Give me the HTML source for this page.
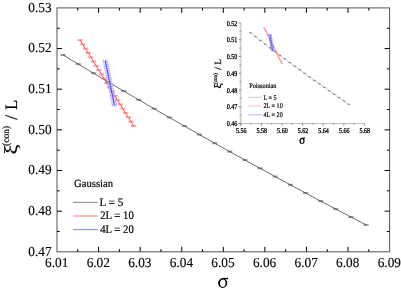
<!DOCTYPE html>
<html><head><meta charset="utf-8"><style>
html,body{margin:0;padding:0;background:#fff;width:401px;height:292px;overflow:hidden}
svg{display:block;will-change:transform}
text{font-family:"Liberation Serif", serif;fill:#000;text-rendering:geometricPrecision}
.b text,text.b{stroke:#000;stroke-width:0.3px}
text.m{stroke:#000;stroke-width:0.12px}
text.g{stroke:#000;stroke-width:0.2px}
</style></head><body>
<svg width="401" height="292" viewBox="0 0 401 292">
<rect x="57.0" y="7.9" width="332.60" height="243.90" fill="none" stroke="#555" stroke-width="1"/>
<line x1="77.79" y1="251.8" x2="77.79" y2="249.10000000000002" stroke="#000"/>
<line x1="77.79" y1="7.9" x2="77.79" y2="10.600000000000001" stroke="#000"/>
<line x1="98.57" y1="251.8" x2="98.57" y2="246.8" stroke="#000"/>
<line x1="98.57" y1="7.9" x2="98.57" y2="12.9" stroke="#000"/>
<line x1="119.36" y1="251.8" x2="119.36" y2="249.10000000000002" stroke="#000"/>
<line x1="119.36" y1="7.9" x2="119.36" y2="10.600000000000001" stroke="#000"/>
<line x1="140.15" y1="251.8" x2="140.15" y2="246.8" stroke="#000"/>
<line x1="140.15" y1="7.9" x2="140.15" y2="12.9" stroke="#000"/>
<line x1="160.94" y1="251.8" x2="160.94" y2="249.10000000000002" stroke="#000"/>
<line x1="160.94" y1="7.9" x2="160.94" y2="10.600000000000001" stroke="#000"/>
<line x1="181.73" y1="251.8" x2="181.73" y2="246.8" stroke="#000"/>
<line x1="181.73" y1="7.9" x2="181.73" y2="12.9" stroke="#000"/>
<line x1="202.51" y1="251.8" x2="202.51" y2="249.10000000000002" stroke="#000"/>
<line x1="202.51" y1="7.9" x2="202.51" y2="10.600000000000001" stroke="#000"/>
<line x1="223.30" y1="251.8" x2="223.30" y2="246.8" stroke="#000"/>
<line x1="223.30" y1="7.9" x2="223.30" y2="12.9" stroke="#000"/>
<line x1="244.09" y1="251.8" x2="244.09" y2="249.10000000000002" stroke="#000"/>
<line x1="244.09" y1="7.9" x2="244.09" y2="10.600000000000001" stroke="#000"/>
<line x1="264.87" y1="251.8" x2="264.87" y2="246.8" stroke="#000"/>
<line x1="264.87" y1="7.9" x2="264.87" y2="12.9" stroke="#000"/>
<line x1="285.66" y1="251.8" x2="285.66" y2="249.10000000000002" stroke="#000"/>
<line x1="285.66" y1="7.9" x2="285.66" y2="10.600000000000001" stroke="#000"/>
<line x1="306.45" y1="251.8" x2="306.45" y2="246.8" stroke="#000"/>
<line x1="306.45" y1="7.9" x2="306.45" y2="12.9" stroke="#000"/>
<line x1="327.24" y1="251.8" x2="327.24" y2="249.10000000000002" stroke="#000"/>
<line x1="327.24" y1="7.9" x2="327.24" y2="10.600000000000001" stroke="#000"/>
<line x1="348.03" y1="251.8" x2="348.03" y2="246.8" stroke="#000"/>
<line x1="348.03" y1="7.9" x2="348.03" y2="12.9" stroke="#000"/>
<line x1="368.81" y1="251.8" x2="368.81" y2="249.10000000000002" stroke="#000"/>
<line x1="368.81" y1="7.9" x2="368.81" y2="10.600000000000001" stroke="#000"/>
<line x1="57.0" y1="231.48" x2="59.7" y2="231.48" stroke="#000"/>
<line x1="389.6" y1="231.48" x2="386.90000000000003" y2="231.48" stroke="#000"/>
<line x1="57.0" y1="211.15" x2="62.0" y2="211.15" stroke="#000"/>
<line x1="389.6" y1="211.15" x2="384.6" y2="211.15" stroke="#000"/>
<line x1="57.0" y1="190.83" x2="59.7" y2="190.83" stroke="#000"/>
<line x1="389.6" y1="190.83" x2="386.90000000000003" y2="190.83" stroke="#000"/>
<line x1="57.0" y1="170.50" x2="62.0" y2="170.50" stroke="#000"/>
<line x1="389.6" y1="170.50" x2="384.6" y2="170.50" stroke="#000"/>
<line x1="57.0" y1="150.18" x2="59.7" y2="150.18" stroke="#000"/>
<line x1="389.6" y1="150.18" x2="386.90000000000003" y2="150.18" stroke="#000"/>
<line x1="57.0" y1="129.85" x2="62.0" y2="129.85" stroke="#000"/>
<line x1="389.6" y1="129.85" x2="384.6" y2="129.85" stroke="#000"/>
<line x1="57.0" y1="109.53" x2="59.7" y2="109.53" stroke="#000"/>
<line x1="389.6" y1="109.53" x2="386.90000000000003" y2="109.53" stroke="#000"/>
<line x1="57.0" y1="89.20" x2="62.0" y2="89.20" stroke="#000"/>
<line x1="389.6" y1="89.20" x2="384.6" y2="89.20" stroke="#000"/>
<line x1="57.0" y1="68.88" x2="59.7" y2="68.88" stroke="#000"/>
<line x1="389.6" y1="68.88" x2="386.90000000000003" y2="68.88" stroke="#000"/>
<line x1="57.0" y1="48.55" x2="62.0" y2="48.55" stroke="#000"/>
<line x1="389.6" y1="48.55" x2="384.6" y2="48.55" stroke="#000"/>
<line x1="57.0" y1="28.23" x2="59.7" y2="28.23" stroke="#000"/>
<line x1="389.6" y1="28.23" x2="386.90000000000003" y2="28.23" stroke="#000"/>
<text transform="translate(56.70,267.00) scale(1,1.03)" font-size="13.3" text-anchor="middle" class="m">6.01</text>
<text transform="translate(98.27,267.00) scale(1,1.03)" font-size="13.3" text-anchor="middle" class="m">6.02</text>
<text transform="translate(139.85,267.00) scale(1,1.03)" font-size="13.3" text-anchor="middle" class="m">6.03</text>
<text transform="translate(181.43,267.00) scale(1,1.03)" font-size="13.3" text-anchor="middle" class="m">6.04</text>
<text transform="translate(223.00,267.00) scale(1,1.03)" font-size="13.3" text-anchor="middle" class="m">6.05</text>
<text transform="translate(264.57,267.00) scale(1,1.03)" font-size="13.3" text-anchor="middle" class="m">6.06</text>
<text transform="translate(306.15,267.00) scale(1,1.03)" font-size="13.3" text-anchor="middle" class="m">6.07</text>
<text transform="translate(347.73,267.00) scale(1,1.03)" font-size="13.3" text-anchor="middle" class="m">6.08</text>
<text transform="translate(389.30,267.00) scale(1,1.03)" font-size="13.3" text-anchor="middle" class="m">6.09</text>
<text transform="translate(51.60,12.00) scale(1,1.03)" font-size="13.3" text-anchor="end" class="m">0.53</text>
<text transform="translate(51.60,52.00) scale(1,1.03)" font-size="13.3" text-anchor="end" class="m">0.52</text>
<text transform="translate(51.60,93.00) scale(1,1.03)" font-size="13.3" text-anchor="end" class="m">0.51</text>
<text transform="translate(51.60,134.00) scale(1,1.03)" font-size="13.3" text-anchor="end" class="m">0.50</text>
<text transform="translate(51.60,174.00) scale(1,1.03)" font-size="13.3" text-anchor="end" class="m">0.49</text>
<text transform="translate(51.60,215.00) scale(1,1.03)" font-size="13.3" text-anchor="end" class="m">0.48</text>
<text transform="translate(51.60,256.00) scale(1,1.03)" font-size="13.3" text-anchor="end" class="m">0.47</text>
<path transform="translate(222.7,283.1) scale(1)" fill="#000" fill-rule="evenodd" d="M-4.6,0A4.6,4.8 0 1,0 4.6,0A4.6,4.8 0 1,0 -4.6,0ZM-2.65,0.2A2.75,3.8 0 1,0 2.85,0.2A2.75,3.8 0 1,0 -2.65,0.2Z"/><path transform="translate(222.7,283.1) scale(1)" fill="#000" d="M-0.8,-4.0L5.3,-3.85L5.35,-5.35L-0.8,-5.0Z"/>
<g transform="translate(16.6,154.5) rotate(-90)" style="stroke:#000;stroke-width:0.2px"><text transform="scale(1.2,1)" x="0" y="0" font-size="18.5">ξ</text><text x="8.6" y="-7.6" font-size="9.5">(con)</text><text x="34.8" y="0" font-size="17.5">/</text><text transform="translate(44.8,0) scale(0.93,1)" font-size="17.5">L</text></g>
<polyline points="63.10,55.00 78.25,64.10 93.40,73.14 108.55,82.12 123.70,91.03 138.85,99.88 154.00,108.66 169.15,117.38 184.30,126.03 199.45,134.62 214.60,143.15 229.75,151.61 244.90,160.01 260.05,168.35 275.20,176.62 290.35,184.83 305.50,192.97 320.65,201.05 335.80,209.06 350.95,217.01 366.10,224.90" fill="none" stroke="#333" stroke-width="0.72"/>
<rect x="60.60" y="54.00" width="5" height="2" fill="#444" opacity="0.55"/>
<rect x="75.75" y="63.10" width="5" height="2" fill="#444" opacity="0.55"/>
<rect x="90.90" y="72.14" width="5" height="2" fill="#444" opacity="0.55"/>
<rect x="106.05" y="81.12" width="5" height="2" fill="#444" opacity="0.55"/>
<rect x="121.20" y="90.03" width="5" height="2" fill="#444" opacity="0.55"/>
<rect x="136.35" y="98.88" width="5" height="2" fill="#444" opacity="0.55"/>
<rect x="151.50" y="107.66" width="5" height="2" fill="#444" opacity="0.55"/>
<rect x="166.65" y="116.38" width="5" height="2" fill="#444" opacity="0.55"/>
<rect x="181.80" y="125.03" width="5" height="2" fill="#444" opacity="0.55"/>
<rect x="196.95" y="133.62" width="5" height="2" fill="#444" opacity="0.55"/>
<rect x="212.10" y="142.15" width="5" height="2" fill="#444" opacity="0.55"/>
<rect x="227.25" y="150.61" width="5" height="2" fill="#444" opacity="0.55"/>
<rect x="242.40" y="159.01" width="5" height="2" fill="#444" opacity="0.55"/>
<rect x="257.55" y="167.35" width="5" height="2" fill="#444" opacity="0.55"/>
<rect x="272.70" y="175.62" width="5" height="2" fill="#444" opacity="0.55"/>
<rect x="287.85" y="183.83" width="5" height="2" fill="#444" opacity="0.55"/>
<rect x="303.00" y="191.97" width="5" height="2" fill="#444" opacity="0.55"/>
<rect x="318.15" y="200.05" width="5" height="2" fill="#444" opacity="0.55"/>
<rect x="333.30" y="208.06" width="5" height="2" fill="#444" opacity="0.55"/>
<rect x="348.45" y="216.01" width="5" height="2" fill="#444" opacity="0.55"/>
<rect x="363.60" y="223.90" width="5" height="2" fill="#444" opacity="0.55"/>
<polyline points="80.10,40.10 82.77,44.39 85.45,48.68 88.12,52.97 90.80,57.26 93.47,61.55 96.15,65.84 98.82,70.13 101.50,74.42 104.17,78.71 106.85,83.00 109.52,87.29 112.20,91.58 114.88,95.87 117.55,100.16 120.22,104.45 122.90,108.74 125.57,113.03 128.25,117.32 130.93,121.61 133.60,125.90" fill="none" stroke="#ff2020" stroke-width="0.8"/>
<rect x="77.50" y="39.10" width="5.2" height="2" fill="#ff6666" opacity="0.62"/>
<rect x="80.17" y="43.39" width="5.2" height="2" fill="#ff6666" opacity="0.62"/>
<rect x="82.85" y="47.68" width="5.2" height="2" fill="#ff6666" opacity="0.62"/>
<rect x="85.53" y="51.97" width="5.2" height="2" fill="#ff6666" opacity="0.62"/>
<rect x="88.20" y="56.26" width="5.2" height="2" fill="#ff6666" opacity="0.62"/>
<rect x="90.88" y="60.55" width="5.2" height="2" fill="#ff6666" opacity="0.62"/>
<rect x="93.55" y="64.84" width="5.2" height="2" fill="#ff6666" opacity="0.62"/>
<rect x="96.22" y="69.13" width="5.2" height="2" fill="#ff6666" opacity="0.62"/>
<rect x="98.90" y="73.42" width="5.2" height="2" fill="#ff6666" opacity="0.62"/>
<rect x="101.58" y="77.71" width="5.2" height="2" fill="#ff6666" opacity="0.62"/>
<rect x="104.25" y="82.00" width="5.2" height="2" fill="#ff6666" opacity="0.62"/>
<rect x="106.92" y="86.29" width="5.2" height="2" fill="#ff6666" opacity="0.62"/>
<rect x="109.60" y="90.58" width="5.2" height="2" fill="#ff6666" opacity="0.62"/>
<rect x="112.28" y="94.87" width="5.2" height="2" fill="#ff6666" opacity="0.62"/>
<rect x="114.95" y="99.16" width="5.2" height="2" fill="#ff6666" opacity="0.62"/>
<rect x="117.62" y="103.45" width="5.2" height="2" fill="#ff6666" opacity="0.62"/>
<rect x="120.30" y="107.74" width="5.2" height="2" fill="#ff6666" opacity="0.62"/>
<rect x="122.97" y="112.03" width="5.2" height="2" fill="#ff6666" opacity="0.62"/>
<rect x="125.65" y="116.32" width="5.2" height="2" fill="#ff6666" opacity="0.62"/>
<rect x="128.33" y="120.61" width="5.2" height="2" fill="#ff6666" opacity="0.62"/>
<rect x="131.00" y="124.90" width="5.2" height="2" fill="#ff6666" opacity="0.62"/>
<rect x="103.00" y="59.80" width="4.6" height="2.2" fill="#c0c0ff" fill-opacity="0.5" stroke="#8c8cff" stroke-width="0.6" stroke-opacity="0.45"/>
<rect x="103.45" y="62.02" width="4.6" height="2.2" fill="#c0c0ff" fill-opacity="0.5" stroke="#8c8cff" stroke-width="0.6" stroke-opacity="0.45"/>
<rect x="103.91" y="64.24" width="4.6" height="2.2" fill="#c0c0ff" fill-opacity="0.5" stroke="#8c8cff" stroke-width="0.6" stroke-opacity="0.45"/>
<rect x="104.36" y="66.46" width="4.6" height="2.2" fill="#c0c0ff" fill-opacity="0.5" stroke="#8c8cff" stroke-width="0.6" stroke-opacity="0.45"/>
<rect x="104.82" y="68.68" width="4.6" height="2.2" fill="#c0c0ff" fill-opacity="0.5" stroke="#8c8cff" stroke-width="0.6" stroke-opacity="0.45"/>
<rect x="105.28" y="70.90" width="4.6" height="2.2" fill="#c0c0ff" fill-opacity="0.5" stroke="#8c8cff" stroke-width="0.6" stroke-opacity="0.45"/>
<rect x="105.73" y="73.12" width="4.6" height="2.2" fill="#c0c0ff" fill-opacity="0.5" stroke="#8c8cff" stroke-width="0.6" stroke-opacity="0.45"/>
<rect x="106.19" y="75.34" width="4.6" height="2.2" fill="#c0c0ff" fill-opacity="0.5" stroke="#8c8cff" stroke-width="0.6" stroke-opacity="0.45"/>
<rect x="106.64" y="77.56" width="4.6" height="2.2" fill="#c0c0ff" fill-opacity="0.5" stroke="#8c8cff" stroke-width="0.6" stroke-opacity="0.45"/>
<rect x="107.09" y="79.78" width="4.6" height="2.2" fill="#c0c0ff" fill-opacity="0.5" stroke="#8c8cff" stroke-width="0.6" stroke-opacity="0.45"/>
<rect x="107.55" y="82.00" width="4.6" height="2.2" fill="#c0c0ff" fill-opacity="0.5" stroke="#8c8cff" stroke-width="0.6" stroke-opacity="0.45"/>
<rect x="108.01" y="84.22" width="4.6" height="2.2" fill="#c0c0ff" fill-opacity="0.5" stroke="#8c8cff" stroke-width="0.6" stroke-opacity="0.45"/>
<rect x="108.46" y="86.44" width="4.6" height="2.2" fill="#c0c0ff" fill-opacity="0.5" stroke="#8c8cff" stroke-width="0.6" stroke-opacity="0.45"/>
<rect x="108.92" y="88.66" width="4.6" height="2.2" fill="#c0c0ff" fill-opacity="0.5" stroke="#8c8cff" stroke-width="0.6" stroke-opacity="0.45"/>
<rect x="109.37" y="90.88" width="4.6" height="2.2" fill="#c0c0ff" fill-opacity="0.5" stroke="#8c8cff" stroke-width="0.6" stroke-opacity="0.45"/>
<rect x="109.83" y="93.10" width="4.6" height="2.2" fill="#c0c0ff" fill-opacity="0.5" stroke="#8c8cff" stroke-width="0.6" stroke-opacity="0.45"/>
<rect x="110.28" y="95.32" width="4.6" height="2.2" fill="#c0c0ff" fill-opacity="0.5" stroke="#8c8cff" stroke-width="0.6" stroke-opacity="0.45"/>
<rect x="110.74" y="97.54" width="4.6" height="2.2" fill="#c0c0ff" fill-opacity="0.5" stroke="#8c8cff" stroke-width="0.6" stroke-opacity="0.45"/>
<rect x="111.19" y="99.76" width="4.6" height="2.2" fill="#c0c0ff" fill-opacity="0.5" stroke="#8c8cff" stroke-width="0.6" stroke-opacity="0.45"/>
<rect x="111.65" y="101.98" width="4.6" height="2.2" fill="#c0c0ff" fill-opacity="0.5" stroke="#8c8cff" stroke-width="0.6" stroke-opacity="0.45"/>
<rect x="112.10" y="104.20" width="4.6" height="2.2" fill="#c0c0ff" fill-opacity="0.5" stroke="#8c8cff" stroke-width="0.6" stroke-opacity="0.45"/>
<polyline points="105.30,60.90 105.75,63.12 106.21,65.34 106.66,67.56 107.12,69.78 107.58,72.00 108.03,74.22 108.48,76.44 108.94,78.66 109.39,80.88 109.85,83.10 110.31,85.32 110.76,87.54 111.22,89.76 111.67,91.98 112.12,94.20 112.58,96.42 113.04,98.64 113.49,100.86 113.95,103.08 114.40,105.30" fill="none" stroke="#3030ff" stroke-width="0.9"/>
<text transform="translate(74.00,186.80) scale(0.97,1.0)" font-size="11" class="g">Gaussian</text>
<line x1="73" y1="202.40" x2="97.8" y2="202.40" stroke="#888" stroke-width="1"/>
<text transform="translate(99.40,205.60) scale(0.97,1.0)" font-size="11.5" class="g">L = 5</text>
<line x1="73" y1="216.00" x2="97.8" y2="216.00" stroke="#ffb4b4" stroke-width="1.8"/>
<text transform="translate(100.20,219.10) scale(0.93,1.0)" font-size="11.5" class="g">2L = 10</text>
<line x1="73" y1="229.60" x2="97.8" y2="229.60" stroke="#8484f6" stroke-width="1"/>
<text transform="translate(100.20,232.60) scale(0.93,1.0)" font-size="11.5" class="g">4L = 20</text>
<line x1="240.70000000000002" y1="22.9" x2="240.70000000000002" y2="125.8" stroke="#d2d2d2" stroke-width="2"/>
<line x1="238.8" y1="123.6" x2="364.4" y2="123.6" stroke="#bbb" stroke-width="1"/>
<line x1="240.80" y1="123.6" x2="240.80" y2="125.6" stroke="#666" stroke-width="0.8"/>
<line x1="251.10" y1="123.6" x2="251.10" y2="124.8" stroke="#666" stroke-width="0.8"/>
<line x1="261.40" y1="123.6" x2="261.40" y2="125.6" stroke="#666" stroke-width="0.8"/>
<line x1="271.70" y1="123.6" x2="271.70" y2="124.8" stroke="#666" stroke-width="0.8"/>
<line x1="282.00" y1="123.6" x2="282.00" y2="125.6" stroke="#666" stroke-width="0.8"/>
<line x1="292.30" y1="123.6" x2="292.30" y2="124.8" stroke="#666" stroke-width="0.8"/>
<line x1="302.60" y1="123.6" x2="302.60" y2="125.6" stroke="#666" stroke-width="0.8"/>
<line x1="312.90" y1="123.6" x2="312.90" y2="124.8" stroke="#666" stroke-width="0.8"/>
<line x1="323.20" y1="123.6" x2="323.20" y2="125.6" stroke="#666" stroke-width="0.8"/>
<line x1="333.50" y1="123.6" x2="333.50" y2="124.8" stroke="#666" stroke-width="0.8"/>
<line x1="343.80" y1="123.6" x2="343.80" y2="125.6" stroke="#666" stroke-width="0.8"/>
<line x1="354.10" y1="123.6" x2="354.10" y2="124.8" stroke="#666" stroke-width="0.8"/>
<line x1="364.40" y1="123.6" x2="364.40" y2="125.6" stroke="#666" stroke-width="0.8"/>
<line x1="240.8" y1="123.60" x2="238.8" y2="123.60" stroke="#666" stroke-width="0.8"/>
<line x1="240.8" y1="115.21" x2="239.60000000000002" y2="115.21" stroke="#666" stroke-width="0.8"/>
<line x1="240.8" y1="106.82" x2="238.8" y2="106.82" stroke="#666" stroke-width="0.8"/>
<line x1="240.8" y1="98.42" x2="239.60000000000002" y2="98.42" stroke="#666" stroke-width="0.8"/>
<line x1="240.8" y1="90.03" x2="238.8" y2="90.03" stroke="#666" stroke-width="0.8"/>
<line x1="240.8" y1="81.64" x2="239.60000000000002" y2="81.64" stroke="#666" stroke-width="0.8"/>
<line x1="240.8" y1="73.25" x2="238.8" y2="73.25" stroke="#666" stroke-width="0.8"/>
<line x1="240.8" y1="64.86" x2="239.60000000000002" y2="64.86" stroke="#666" stroke-width="0.8"/>
<line x1="240.8" y1="56.47" x2="238.8" y2="56.47" stroke="#666" stroke-width="0.8"/>
<line x1="240.8" y1="48.08" x2="239.60000000000002" y2="48.08" stroke="#666" stroke-width="0.8"/>
<line x1="240.8" y1="39.68" x2="238.8" y2="39.68" stroke="#666" stroke-width="0.8"/>
<line x1="240.8" y1="31.29" x2="239.60000000000002" y2="31.29" stroke="#666" stroke-width="0.8"/>
<line x1="240.8" y1="22.90" x2="238.8" y2="22.90" stroke="#666" stroke-width="0.8"/>
<text class="b" x="241.20" y="133.1" font-size="7.3" text-anchor="middle" textLength="10.6" lengthAdjust="spacingAndGlyphs">5.56</text>
<text class="b" x="261.80" y="133.1" font-size="7.3" text-anchor="middle" textLength="10.6" lengthAdjust="spacingAndGlyphs">5.58</text>
<text class="b" x="282.40" y="133.1" font-size="7.3" text-anchor="middle" textLength="10.6" lengthAdjust="spacingAndGlyphs">5.60</text>
<text class="b" x="303.00" y="133.1" font-size="7.3" text-anchor="middle" textLength="10.6" lengthAdjust="spacingAndGlyphs">5.62</text>
<text class="b" x="323.60" y="133.1" font-size="7.3" text-anchor="middle" textLength="10.6" lengthAdjust="spacingAndGlyphs">5.64</text>
<text class="b" x="344.20" y="133.1" font-size="7.3" text-anchor="middle" textLength="10.6" lengthAdjust="spacingAndGlyphs">5.66</text>
<text class="b" x="364.80" y="133.1" font-size="7.3" text-anchor="middle" textLength="10.6" lengthAdjust="spacingAndGlyphs">5.68</text>
<text class="b" x="237.4" y="126.20" font-size="7.3" text-anchor="end" textLength="10.6" lengthAdjust="spacingAndGlyphs">0.46</text>
<text class="b" x="237.4" y="109.42" font-size="7.3" text-anchor="end" textLength="10.6" lengthAdjust="spacingAndGlyphs">0.47</text>
<text class="b" x="237.4" y="92.63" font-size="7.3" text-anchor="end" textLength="10.6" lengthAdjust="spacingAndGlyphs">0.48</text>
<text class="b" x="237.4" y="75.85" font-size="7.3" text-anchor="end" textLength="10.6" lengthAdjust="spacingAndGlyphs">0.49</text>
<text class="b" x="237.4" y="59.07" font-size="7.3" text-anchor="end" textLength="10.6" lengthAdjust="spacingAndGlyphs">0.50</text>
<text class="b" x="237.4" y="42.28" font-size="7.3" text-anchor="end" textLength="10.6" lengthAdjust="spacingAndGlyphs">0.51</text>
<text class="b" x="237.4" y="25.50" font-size="7.3" text-anchor="end" textLength="10.6" lengthAdjust="spacingAndGlyphs">0.52</text>
<path transform="translate(302.0,140.9) scale(0.56,0.6)" fill="#000" fill-rule="evenodd" d="M-4.6,0A4.6,4.8 0 1,0 4.6,0A4.6,4.8 0 1,0 -4.6,0ZM-2.20,0.2A2.3,3.4 0 1,0 2.40,0.2A2.3,3.4 0 1,0 -2.20,0.2Z"/><path transform="translate(302.0,140.9) scale(0.56,0.6)" fill="#000" d="M-0.8,-3.55L5.3,-3.4L5.35,-5.8L-0.8,-5.45Z"/>
<g transform="translate(221.3,88.6) rotate(-90) scale(0.54)" style="stroke:#000;stroke-width:0.5px"><text transform="scale(1.2,1)" x="0" y="0" font-size="18.5">ξ</text><text x="8.6" y="-7.6" font-size="9.5">(con)</text><text x="34.8" y="0" font-size="17.5">/</text><text transform="translate(44.8,0) scale(0.93,1)" font-size="17.5">L</text></g>
<polyline points="250.50,32.80 255.42,36.61 260.34,40.39 265.26,44.15 270.18,47.89 275.10,51.60 280.02,55.29 284.94,58.95 289.86,62.58 294.78,66.20 299.70,69.78 304.62,73.35 309.54,76.88 314.46,80.40 319.38,83.89 324.30,87.35 329.22,90.79 334.14,94.20 339.06,97.59 343.98,100.96 348.90,104.30" fill="none" stroke="#aaa" stroke-width="0.6"/>
<rect x="249.20" y="32.25" width="2.6" height="1.1" fill="#444" opacity="0.6"/>
<rect x="254.12" y="36.06" width="2.6" height="1.1" fill="#444" opacity="0.6"/>
<rect x="259.04" y="39.84" width="2.6" height="1.1" fill="#444" opacity="0.6"/>
<rect x="263.96" y="43.60" width="2.6" height="1.1" fill="#444" opacity="0.6"/>
<rect x="268.88" y="47.34" width="2.6" height="1.1" fill="#444" opacity="0.6"/>
<rect x="273.80" y="51.05" width="2.6" height="1.1" fill="#444" opacity="0.6"/>
<rect x="278.72" y="54.74" width="2.6" height="1.1" fill="#444" opacity="0.6"/>
<rect x="283.64" y="58.40" width="2.6" height="1.1" fill="#444" opacity="0.6"/>
<rect x="288.56" y="62.03" width="2.6" height="1.1" fill="#444" opacity="0.6"/>
<rect x="293.48" y="65.65" width="2.6" height="1.1" fill="#444" opacity="0.6"/>
<rect x="298.40" y="69.23" width="2.6" height="1.1" fill="#444" opacity="0.6"/>
<rect x="303.32" y="72.80" width="2.6" height="1.1" fill="#444" opacity="0.6"/>
<rect x="308.24" y="76.33" width="2.6" height="1.1" fill="#444" opacity="0.6"/>
<rect x="313.16" y="79.85" width="2.6" height="1.1" fill="#444" opacity="0.6"/>
<rect x="318.08" y="83.34" width="2.6" height="1.1" fill="#444" opacity="0.6"/>
<rect x="323.00" y="86.80" width="2.6" height="1.1" fill="#444" opacity="0.6"/>
<rect x="327.92" y="90.24" width="2.6" height="1.1" fill="#444" opacity="0.6"/>
<rect x="332.84" y="93.65" width="2.6" height="1.1" fill="#444" opacity="0.6"/>
<rect x="337.76" y="97.04" width="2.6" height="1.1" fill="#444" opacity="0.6"/>
<rect x="342.68" y="100.41" width="2.6" height="1.1" fill="#444" opacity="0.6"/>
<rect x="347.60" y="103.75" width="2.6" height="1.1" fill="#444" opacity="0.6"/>
<polyline points="264.20,27.80 265.08,29.57 265.96,31.35 266.84,33.12 267.72,34.90 268.60,36.67 269.48,38.45 270.36,40.23 271.24,42.00 272.12,43.77 273.00,45.55 273.88,47.33 274.76,49.10 275.64,50.88 276.52,52.65 277.40,54.42 278.28,56.20 279.16,57.98 280.04,59.75 280.92,61.53 281.80,63.30" fill="none" stroke="#ffa8a8" stroke-width="0.5"/>
<rect x="263.30" y="27.30" width="1.8" height="1.0" fill="#ff2020" opacity="0.6"/>
<rect x="264.18" y="29.07" width="1.8" height="1.0" fill="#ff2020" opacity="0.6"/>
<rect x="265.06" y="30.85" width="1.8" height="1.0" fill="#ff2020" opacity="0.6"/>
<rect x="265.94" y="32.62" width="1.8" height="1.0" fill="#ff2020" opacity="0.6"/>
<rect x="266.82" y="34.40" width="1.8" height="1.0" fill="#ff2020" opacity="0.6"/>
<rect x="267.70" y="36.17" width="1.8" height="1.0" fill="#ff2020" opacity="0.6"/>
<rect x="268.58" y="37.95" width="1.8" height="1.0" fill="#ff2020" opacity="0.6"/>
<rect x="269.46" y="39.73" width="1.8" height="1.0" fill="#ff2020" opacity="0.6"/>
<rect x="270.34" y="41.50" width="1.8" height="1.0" fill="#ff2020" opacity="0.6"/>
<rect x="271.22" y="43.27" width="1.8" height="1.0" fill="#ff2020" opacity="0.6"/>
<rect x="272.10" y="45.05" width="1.8" height="1.0" fill="#ff2020" opacity="0.6"/>
<rect x="272.98" y="46.83" width="1.8" height="1.0" fill="#ff2020" opacity="0.6"/>
<rect x="273.86" y="48.60" width="1.8" height="1.0" fill="#ff2020" opacity="0.6"/>
<rect x="274.74" y="50.38" width="1.8" height="1.0" fill="#ff2020" opacity="0.6"/>
<rect x="275.62" y="52.15" width="1.8" height="1.0" fill="#ff2020" opacity="0.6"/>
<rect x="276.50" y="53.92" width="1.8" height="1.0" fill="#ff2020" opacity="0.6"/>
<rect x="277.38" y="55.70" width="1.8" height="1.0" fill="#ff2020" opacity="0.6"/>
<rect x="278.26" y="57.48" width="1.8" height="1.0" fill="#ff2020" opacity="0.6"/>
<rect x="279.14" y="59.25" width="1.8" height="1.0" fill="#ff2020" opacity="0.6"/>
<rect x="280.02" y="61.03" width="1.8" height="1.0" fill="#ff2020" opacity="0.6"/>
<rect x="280.90" y="62.80" width="1.8" height="1.0" fill="#ff2020" opacity="0.6"/>
<rect x="268.60" y="34.00" width="2.8" height="1.2" fill="#a8a8ff" fill-opacity="0.35" stroke="#7070ff" stroke-width="0.4" stroke-opacity="0.45"/>
<rect x="268.73" y="34.82" width="2.8" height="1.2" fill="#a8a8ff" fill-opacity="0.35" stroke="#7070ff" stroke-width="0.4" stroke-opacity="0.45"/>
<rect x="268.86" y="35.64" width="2.8" height="1.2" fill="#a8a8ff" fill-opacity="0.35" stroke="#7070ff" stroke-width="0.4" stroke-opacity="0.45"/>
<rect x="268.99" y="36.46" width="2.8" height="1.2" fill="#a8a8ff" fill-opacity="0.35" stroke="#7070ff" stroke-width="0.4" stroke-opacity="0.45"/>
<rect x="269.12" y="37.28" width="2.8" height="1.2" fill="#a8a8ff" fill-opacity="0.35" stroke="#7070ff" stroke-width="0.4" stroke-opacity="0.45"/>
<rect x="269.25" y="38.10" width="2.8" height="1.2" fill="#a8a8ff" fill-opacity="0.35" stroke="#7070ff" stroke-width="0.4" stroke-opacity="0.45"/>
<rect x="269.38" y="38.92" width="2.8" height="1.2" fill="#a8a8ff" fill-opacity="0.35" stroke="#7070ff" stroke-width="0.4" stroke-opacity="0.45"/>
<rect x="269.51" y="39.74" width="2.8" height="1.2" fill="#a8a8ff" fill-opacity="0.35" stroke="#7070ff" stroke-width="0.4" stroke-opacity="0.45"/>
<rect x="269.64" y="40.56" width="2.8" height="1.2" fill="#a8a8ff" fill-opacity="0.35" stroke="#7070ff" stroke-width="0.4" stroke-opacity="0.45"/>
<rect x="269.77" y="41.38" width="2.8" height="1.2" fill="#a8a8ff" fill-opacity="0.35" stroke="#7070ff" stroke-width="0.4" stroke-opacity="0.45"/>
<rect x="269.90" y="42.20" width="2.8" height="1.2" fill="#a8a8ff" fill-opacity="0.35" stroke="#7070ff" stroke-width="0.4" stroke-opacity="0.45"/>
<rect x="270.03" y="43.02" width="2.8" height="1.2" fill="#a8a8ff" fill-opacity="0.35" stroke="#7070ff" stroke-width="0.4" stroke-opacity="0.45"/>
<rect x="270.16" y="43.84" width="2.8" height="1.2" fill="#a8a8ff" fill-opacity="0.35" stroke="#7070ff" stroke-width="0.4" stroke-opacity="0.45"/>
<rect x="270.29" y="44.66" width="2.8" height="1.2" fill="#a8a8ff" fill-opacity="0.35" stroke="#7070ff" stroke-width="0.4" stroke-opacity="0.45"/>
<rect x="270.42" y="45.48" width="2.8" height="1.2" fill="#a8a8ff" fill-opacity="0.35" stroke="#7070ff" stroke-width="0.4" stroke-opacity="0.45"/>
<rect x="270.55" y="46.30" width="2.8" height="1.2" fill="#a8a8ff" fill-opacity="0.35" stroke="#7070ff" stroke-width="0.4" stroke-opacity="0.45"/>
<rect x="270.68" y="47.12" width="2.8" height="1.2" fill="#a8a8ff" fill-opacity="0.35" stroke="#7070ff" stroke-width="0.4" stroke-opacity="0.45"/>
<rect x="270.81" y="47.94" width="2.8" height="1.2" fill="#a8a8ff" fill-opacity="0.35" stroke="#7070ff" stroke-width="0.4" stroke-opacity="0.45"/>
<rect x="270.94" y="48.76" width="2.8" height="1.2" fill="#a8a8ff" fill-opacity="0.35" stroke="#7070ff" stroke-width="0.4" stroke-opacity="0.45"/>
<rect x="271.07" y="49.58" width="2.8" height="1.2" fill="#a8a8ff" fill-opacity="0.35" stroke="#7070ff" stroke-width="0.4" stroke-opacity="0.45"/>
<rect x="271.20" y="50.40" width="2.8" height="1.2" fill="#a8a8ff" fill-opacity="0.35" stroke="#7070ff" stroke-width="0.4" stroke-opacity="0.45"/>
<polyline points="270.00,34.60 270.13,35.42 270.26,36.24 270.39,37.06 270.52,37.88 270.65,38.70 270.78,39.52 270.91,40.34 271.04,41.16 271.17,41.98 271.30,42.80 271.43,43.62 271.56,44.44 271.69,45.26 271.82,46.08 271.95,46.90 272.08,47.72 272.21,48.54 272.34,49.36 272.47,50.18 272.60,51.00" fill="none" stroke="#3535ff" stroke-width="0.65"/>
<text transform="translate(249.20,88.00) scale(0.9,1.0)" font-size="7" class="b" style="stroke-width:0.2px">Poissonian</text>
<line x1="248.2" y1="97.30" x2="261.8" y2="97.30" stroke="#bbb" stroke-width="0.8"/>
<text transform="translate(263.40,99.50) scale(0.88,1.0)" font-size="7" class="b" style="stroke-width:0.2px">L = 5</text>
<line x1="248.2" y1="106.05" x2="261.8" y2="106.05" stroke="#f8b0b0" stroke-width="0.8"/>
<text transform="translate(263.40,108.25) scale(0.88,1.0)" font-size="7" class="b" style="stroke-width:0.2px">2L = 10</text>
<line x1="248.2" y1="114.80" x2="261.8" y2="114.80" stroke="#a0a0f4" stroke-width="0.8"/>
<text transform="translate(263.40,117.00) scale(0.88,1.0)" font-size="7" class="b" style="stroke-width:0.2px">4L = 20</text>
</svg>
</body></html>
